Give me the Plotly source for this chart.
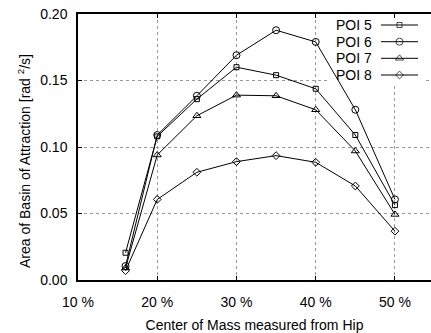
import plotly.graph_objects as go

com = [16, 20, 25, 30, 35, 40, 45, 50]
poi5 = [0.0205, 0.108, 0.136, 0.160, 0.154, 0.1438, 0.109, 0.0563]
poi6 = [0.0105, 0.109, 0.1385, 0.169, 0.1878, 0.179, 0.128, 0.0606]
poi7 = [0.0090, 0.094, 0.1235, 0.139, 0.1385, 0.128, 0.097, 0.0493]
poi8 = [0.0070, 0.0606, 0.081, 0.089, 0.0935, 0.0885, 0.0707, 0.0367]
names = ["POI 5", "POI 6", "POI 7", "POI 8"]
symbols = ["square-open", "circle-open", "triangle-up-open", "diamond-open"]
sizes = [5, 7, 7, 6]
series = [poi5, poi6, poi7, poi8]
xticks = [10, 20, 30, 40, 50]
xticklabels = ["10 %", "20 %", "30 %", "40 %", "50 %"]
yticks = [0.0, 0.05, 0.10, 0.15, 0.20]

W, H = 431, 333
L, R, T, B = 78, 0, 14, 53
FONT = "Liberation Sans, Arial, sans-serif"
XR = [10, 54.55]
YR = [0, 0.20]
pw = W - L - R
ph = H - T - B


def px2x(px):
    return XR[0] + (px - L) / pw * (XR[1] - XR[0])


def py2y(py):
    return YR[0] + (H - B - py) / ph * (YR[1] - YR[0])


fig = go.Figure()
for name, ys, sym, sz in zip(names, series, symbols, sizes):
    fig.add_trace(go.Scatter(
        x=com, y=ys, mode="lines+markers", name=name,
        line=dict(color="black", width=1),
        marker=dict(symbol=sym, size=sz, color="black", line=dict(width=1, color="black")),
        showlegend=False, cliponaxis=False,
    ))

# manual legend: text left of the sample, as in the reference
leg_rows = [25, 41.7, 58.3, 75]
for name, sym, sz, yr in zip(names, symbols, sizes, leg_rows):
    fig.add_trace(go.Scatter(
        x=[px2x(381), px2x(399.5), px2x(418)], y=[py2y(yr)] * 3, mode="lines+markers",
        line=dict(color="black", width=1),
        marker=dict(symbol=sym, size=[0, sz, 0], color="black", line=dict(width=1, color="black")),
        showlegend=False, hoverinfo="skip", cliponaxis=False))
    fig.add_annotation(x=px2x(374), y=py2y(yr), xref="x", yref="y", text=name,
                       showarrow=False, xanchor="right", yanchor="middle",
                       font=dict(size=14, color="black", family=FONT))

# white legend box above grid, below traces
fig.add_shape(type="rect", xref="x", yref="y",
              x0=px2x(328), x1=px2x(426), y0=py2y(83), y1=py2y(15),
              fillcolor="white", line=dict(width=0), layer="between")

fig.add_annotation(x=(24 - L) / pw, y=(H - B - 161) / ph, xref="paper", yref="paper",
                   text="Area of Basin of Attraction [rad <sup>2</sup>/s]",
                   textangle=-90, showarrow=False, xanchor="center", yanchor="middle",
                   font=dict(size=14, color="black", family=FONT))

fig.update_layout(
    width=W, height=H,
    margin=dict(l=L, r=R, t=T, b=B, pad=0),
    paper_bgcolor="white", plot_bgcolor="white",
    font=dict(family=FONT, size=14, color="black"),
    xaxis=dict(range=XR, tickvals=xticks, ticktext=xticklabels,
               showgrid=True, gridcolor="#999999", griddash="dot", gridwidth=1,
               showline=True, linecolor="black", linewidth=1.5, mirror="ticks",
               ticks="inside", ticklen=4, tickcolor="black",
               ticklabelstandoff=8, zeroline=False,
               title=dict(text="Center of Mass measured from Hip", standoff=14,
                          font=dict(size=14))),
    yaxis=dict(range=YR, tickvals=yticks, tickformat=".2f",
               showgrid=True, gridcolor="#999999", griddash="dot", gridwidth=1,
               showline=True, linecolor="black", linewidth=1.5,
               ticks="inside", ticklen=4, tickcolor="black",
               ticklabelstandoff=6, zeroline=False),
    showlegend=False,
)

fig.write_html("out.html")
